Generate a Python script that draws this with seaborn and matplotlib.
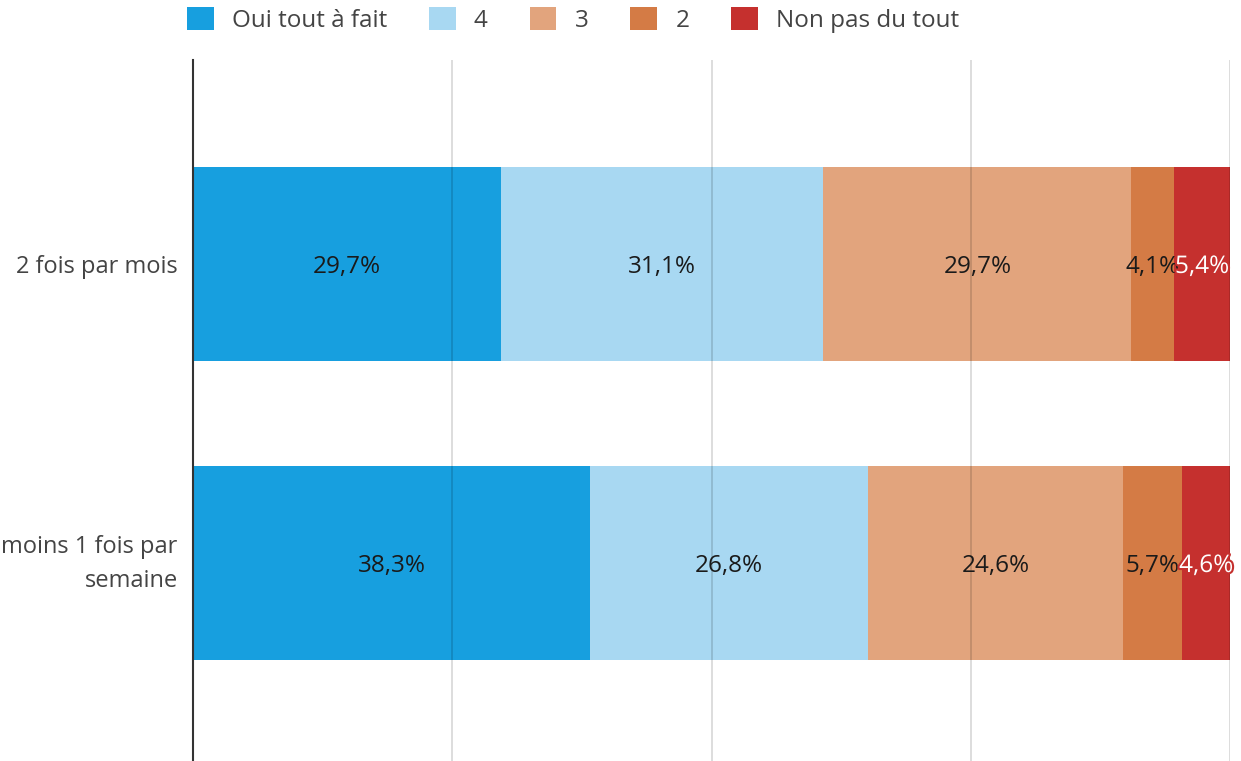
import matplotlib
matplotlib.use("Agg")
import matplotlib.pyplot as plt
import matplotlib.patheffects as pe
import matplotlib.transforms as mtransforms
from matplotlib.patches import Patch
import numpy as np
import pandas as pd
import seaborn as sns

categories = ["2 fois par mois", "moins 1 fois par\nsemaine"]
series_names = ["Oui tout à fait", "4", "3", "2", "Non pas du tout"]
oui_tout_a_fait = [29.7, 38.3]
s4 = [31.1, 26.8]
s3 = [29.7, 24.6]
s2 = [4.1, 5.7]
non_pas_du_tout = [5.4, 4.6]
colors = ["#179fdf", "#a8d8f2", "#e2a47d", "#d47b45", "#c5302e"]

sns.set_theme(style="white")
plt.rcParams["font.family"] = ["Open Sans", "DejaVu Sans"]

values = np.array([oui_tout_a_fait, s4, s3, s2, non_pas_du_tout])
cum = values.cumsum(axis=0)

fig = plt.figure(figsize=(12.41, 7.61), dpi=100)
ax = fig.add_axes([193 / 1241, 0.0, (1230 - 193) / 1241, 1 - 60 / 761])

# stacked bars: draw largest cumulative first
for i in range(len(series_names) - 1, -1, -1):
    df = pd.DataFrame({"cat": categories, "val": cum[i]})
    sns.barplot(data=df, x="val", y="cat", orient="h", color=colors[i],
                width=0.65, linewidth=0, saturation=1, ax=ax, zorder=1)

# labels
for i in range(len(series_names)):
    for j in range(len(categories)):
        center = cum[i][j] - values[i][j] / 2
        lbl = f"{values[i][j]:.1f}%".replace(".", ",")
        if i == len(series_names) - 1:
            ax.text(center, j, lbl, ha="center", va="center_baseline", fontsize=17.5,
                    color="white", zorder=5,
                    path_effects=[pe.withStroke(linewidth=3, foreground=colors[i])])
        else:
            ax.text(center, j, lbl, ha="center", va="center_baseline", fontsize=17.5,
                    color="#1a1a1a", zorder=5)

ax.set_xlim(0, 100)
ax.set_ylim(1.662, -0.682)
ax.set_xticks([0, 25, 50, 75, 100])
ax.set_xticklabels([])
ax.set_xlabel("")
ax.set_ylabel("")
ax.grid(axis="x", color="black", alpha=0.16, linewidth=1.2)
ax.grid(axis="y", visible=False)
ax.set_axisbelow(False)
for s in ["top", "right", "bottom"]:
    ax.spines[s].set_visible(False)
ax.spines["left"].set_color("#333333")
ax.spines["left"].set_linewidth(1.5)
ax.spines["left"].set_zorder(6)
ax.tick_params(axis="y", length=0, pad=11, labelsize=17, labelcolor="#444444")
ax.tick_params(axis="x", length=0)
ylabels = ax.get_yticklabels()
for t in ylabels:
    t.set_ha("right")
    t.set_linespacing(1.55)
ylabels[1].set_transform(ylabels[1].get_transform() +
                         mtransforms.ScaledTranslation(0, 7 / 100, fig.dpi_scale_trans))

handles = [Patch(facecolor=c, edgecolor="none") for c in colors]
fig.legend(handles, series_names, loc="center left",
           bbox_to_anchor=(187 / 1241, 1 - 20 / 761), ncol=5, frameon=False,
           fontsize=17.5, handlelength=1.1, handleheight=1.1, handletextpad=0.75,
           columnspacing=1.72, borderpad=0, borderaxespad=0, labelcolor="#444444")

fig.savefig("out.png", dpi=100)
